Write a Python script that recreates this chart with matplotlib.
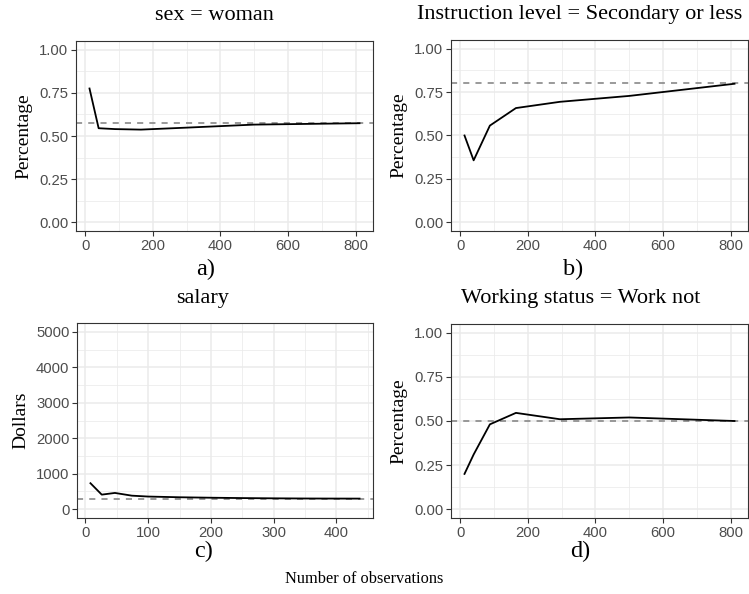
import matplotlib
matplotlib.use("Agg")
import matplotlib.pyplot as plt
import numpy as np

# Data
n_obs = [13, 40, 88, 165, 295, 500, 811]
woman = [0.775, 0.545, 0.540, 0.537, 0.548, 0.566, 0.574]
secondary = [0.500, 0.357, 0.557, 0.658, 0.694, 0.728, 0.798]
work_not = [0.200, 0.310, 0.481, 0.546, 0.510, 0.520, 0.500]

n_obs_salary = [8, 26, 47, 74, 100, 150, 200, 250, 300, 350, 400, 437]
salary = [731, 409, 457, 380, 355, 335, 322, 312, 305, 300, 298, 297]

pop_woman = 0.575
pop_secondary = 0.80
pop_work_not = 0.50
pop_salary = 295

SERIF = "Liberation Serif"
SANS = "Liberation Sans"

fig = plt.figure(figsize=(7.49, 5.94), dpi=100)
W, H = 749, 594


def box(l, t, r, b):
    return [l / W, 1 - b / H, (r - l) / W, (b - t) / H]


def panel(rect, x, y, ref, xticks, xminor, yticks, yminor, ylim, ylabel, yfmt):
    ax = fig.add_axes(rect)
    span = max(x) - min(x)
    ax.set_xlim(min(x) - 0.05 * span, max(x) + 0.05 * span)
    ax.set_ylim(*ylim)
    ax.set_xticks(xticks)
    ax.set_xticks(xminor, minor=True)
    ax.set_yticks(yticks)
    ax.set_yticks(yminor, minor=True)
    ax.set_yticklabels([yfmt(v) for v in yticks])
    ax.grid(True, which="major", color="#EBEBEB", linewidth=1.1)
    ax.grid(True, which="minor", color="#EBEBEB", linewidth=0.55)
    ax.set_axisbelow(True)
    ax.tick_params(which="minor", length=0)
    ax.tick_params(which="major", length=3.5, width=0.8, color="#333333",
                   labelcolor="#4D4D4D", labelsize=10.7, pad=2)
    for lab in ax.get_xticklabels() + ax.get_yticklabels():
        lab.set_fontfamily(SANS)
    for s in ax.spines.values():
        s.set_color("#333333")
        s.set_linewidth(0.8)
    ax.axhline(ref, color="#7F7F7F", linestyle=(0, (4, 4)), linewidth=1.1)
    ax.plot(x, y, color="black", linewidth=1.3)
    ax.set_ylabel(ylabel, family=SERIF, fontsize=14, labelpad=5)
    return ax


pct_ticks = [0, 0.25, 0.5, 0.75, 1.0]
pct_minor = [0.125, 0.375, 0.625, 0.875]
pct_lim = (-0.05, 1.05)
pct_fmt = lambda v: "%.2f" % v

panel(box(76, 41, 373, 231), n_obs, woman, pop_woman,
      [0, 200, 400, 600, 800], [100, 300, 500, 700],
      pct_ticks, pct_minor, pct_lim, "Percentage", pct_fmt)
panel(box(451, 40, 748, 231), n_obs, secondary, pop_secondary,
      [0, 200, 400, 600, 800], [100, 300, 500, 700],
      pct_ticks, pct_minor, pct_lim, "Percentage", pct_fmt)
panel(box(77, 323, 373, 518), n_obs_salary, salary, pop_salary,
      [0, 100, 200, 300, 400], [50, 150, 250, 350, 450],
      [0, 1000, 2000, 3000, 4000, 5000], [500, 1500, 2500, 3500, 4500],
      (-250, 5250), "Dollars", lambda v: "%d" % v)
panel(box(451, 324, 748, 518), n_obs, work_not, pop_work_not,
      [0, 200, 400, 600, 800], [100, 300, 500, 700],
      pct_ticks, pct_minor, pct_lim, "Percentage", pct_fmt)


def ftext(x, y, s, size):
    fig.text(x / W, 1 - y / H, s, ha="center", va="center",
             family=SERIF, fontsize=size)


ftext(214, 15, "sex = woman", 16)
ftext(580, 15, "Instruction level = Secondary or less", 16)
ftext(203, 299, "salary", 16)
ftext(581, 299, "Working status = Work not", 16)

ftext(206, 269, "a)", 17.5)
ftext(573, 269, "b)", 17.5)
ftext(204, 551, "c)", 17.5)
ftext(580, 551, "d)", 17.5)

ftext(364, 579, "Number of observations", 11.8)

fig.savefig("out.png", dpi=100)
